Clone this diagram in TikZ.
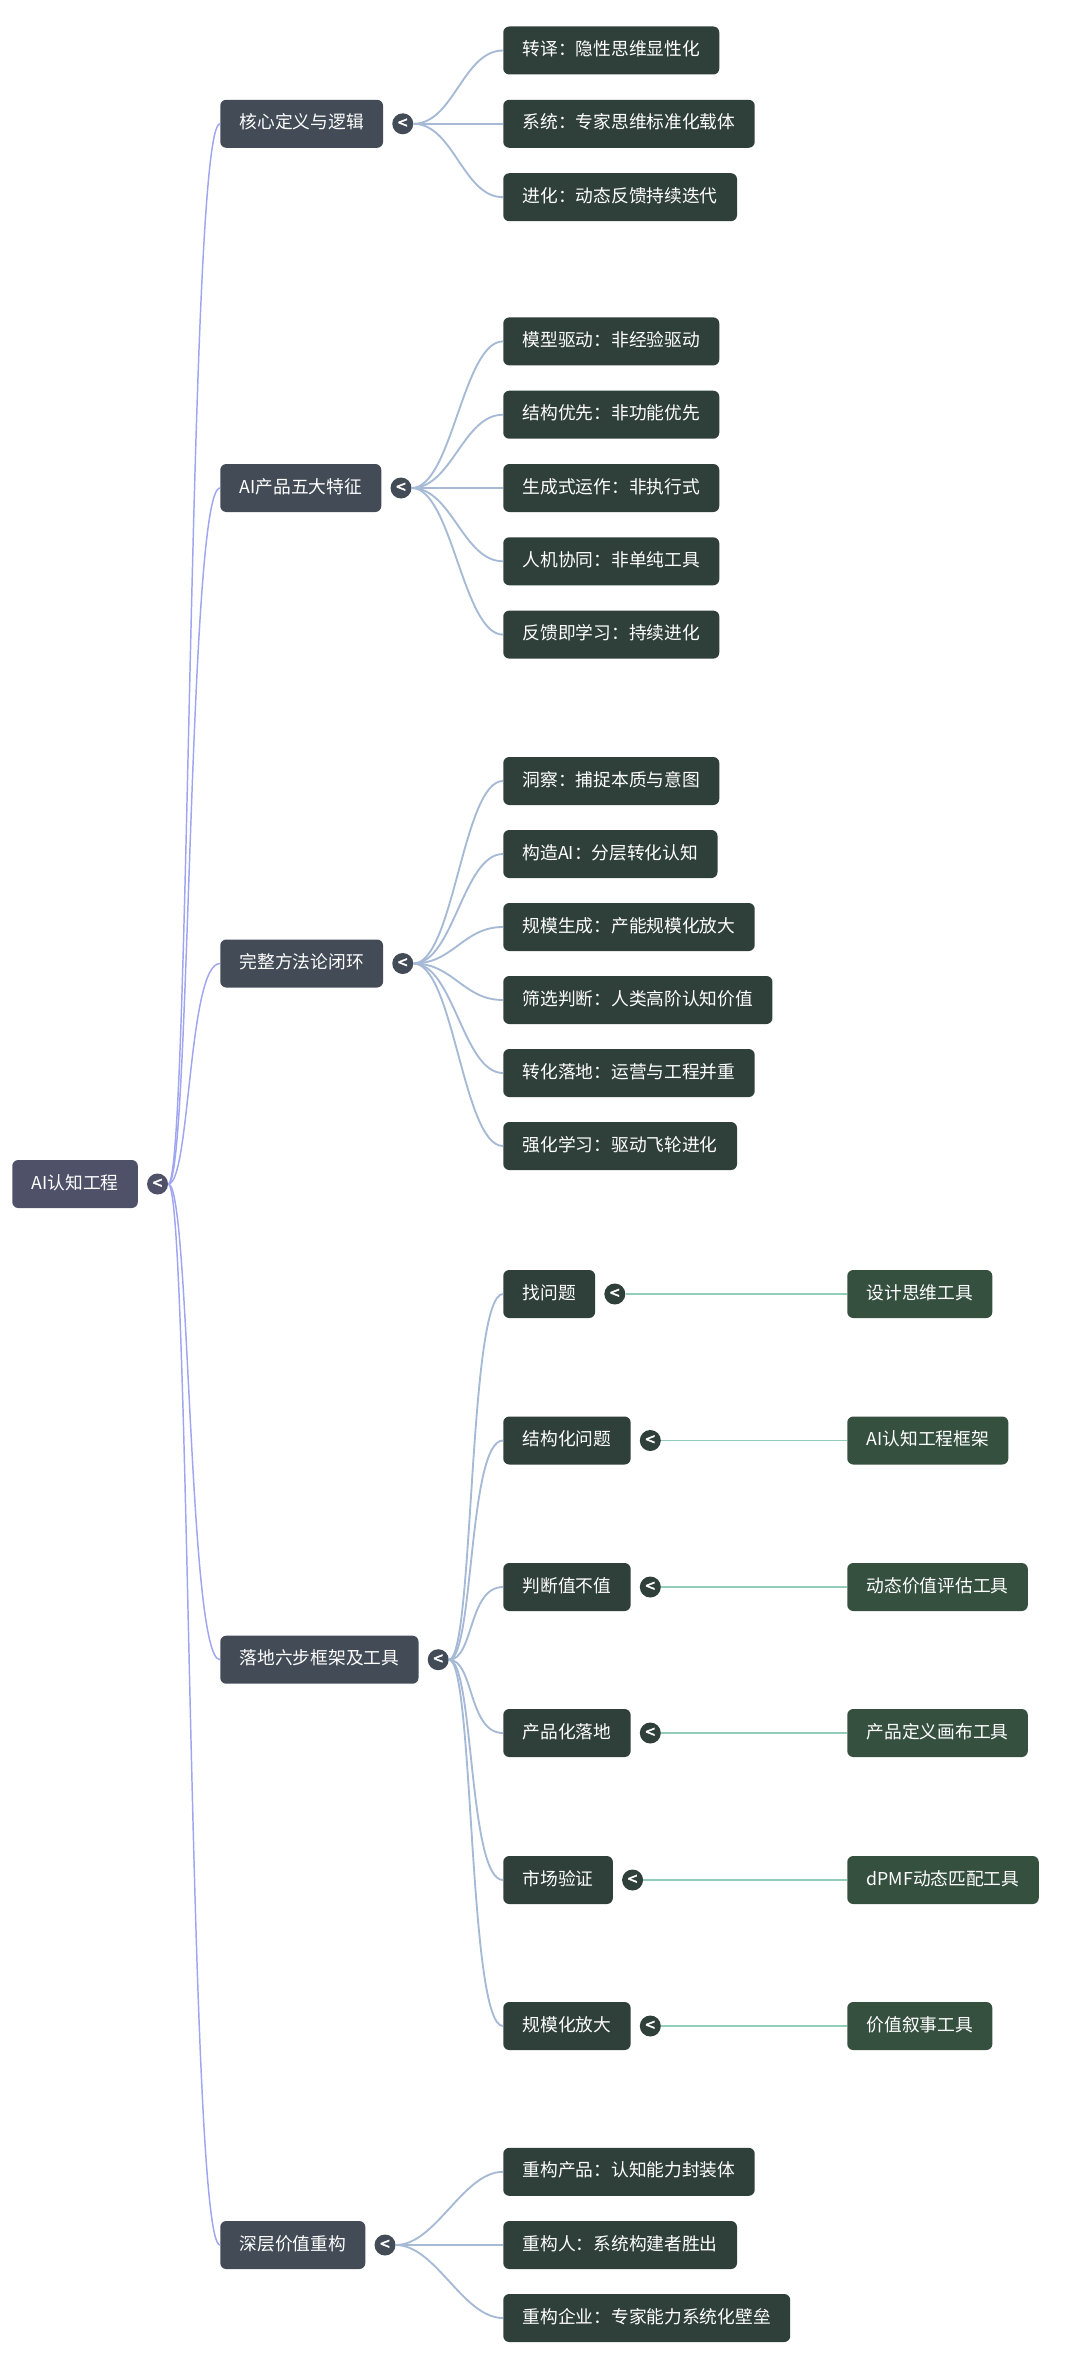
\documentclass[tikz,border=0pt]{standalone}
\usepackage{fontspec}
\newfontfamily\cjk{Noto Sans CJK SC}
\newfontfamily\cjkb[FakeBold=2.5]{Noto Sans CJK SC}
\usetikzlibrary{positioning}
\definecolor{rootC}{HTML}{4F5169}
\definecolor{topC}{HTML}{424B56}
\definecolor{subC}{HTML}{2F3F3A}
\definecolor{toolC}{HTML}{35503F}
\definecolor{rootL}{HTML}{A0A5F0}
\definecolor{subL}{HTML}{A6BAD6}
\definecolor{toolL}{HTML}{92CDB8}
\tikzset{
  box/.style={rounded corners=4.5pt, text=white, inner xsep=14.5pt, inner ysep=0pt,
    minimum height=36pt, text height=0.88em, text depth=0.12em,
    font=\cjk\fontsize{13.3pt}{16pt}\selectfont},
  rootbox/.style={box, fill=rootC},
  topic/.style={box, fill=topC},
  sub/.style={box, fill=subC},
  tool/.style={box, fill=toolC},
  tog/.style={circle, inner sep=0pt, minimum size=15.75pt, text=white,
    font=\cjkb\fontsize{13pt}{13pt}\selectfont},
  rootln/.style={rootL, line width=1.1pt},
  subln/.style={subL, line width=1.4pt},
  toolln/.style={toolL, line width=1.4pt},
}
\begin{document}
\begin{tikzpicture}[x=0.75pt,y=-0.75pt]
\useasboundingbox (0,0) rectangle (1080,2369);

% ============ root ==========================================================
\node[rootbox, anchor=west] (root) at (12,1184) {AI认知工程};
\node[tog, fill=rootC, right=6.5pt of root] (root-t) {<};

% ============ first level ===================================================
\foreach \n/\y/\t in {def/123.8/核心定义与逻辑, feat/488/AI产品五大特征,
    cyc/963.5/完整方法论闭环, six/1659.7/落地六步框架及工具, val/2245/深层价值重构}{
  \node[topic, anchor=west] (\n) at (220,\y) {\t};
  \node[tog, fill=topC, right=6.5pt of \n] (\n-t) {<};
  \draw[rootln] (root-t.east) .. controls +(22,0) and +(-32,0) .. (\n.west);
}

% ============ core definition ===============================================
\foreach \i/\y/\t in {1/50.5/转译：隐性思维显性化, 2/123.8/系统：专家思维标准化载体,
    3/197.2/进化：动态反馈持续迭代}{
  \node[sub, anchor=west] (def-\i) at (503,\y) {\t};
  \draw[subln] (def-t.east) .. controls +(40,0) and +(-40,0) .. (def-\i.west);
}

% ============ five features =================================================
\foreach \i/\y/\t in {1/341.4/模型驱动：非经验驱动, 2/414.7/结构优先：非功能优先,
    3/488/生成式运作：非执行式, 4/561.3/人机协同：非单纯工具, 5/634.6/反馈即学习：持续进化}{
  \node[sub, anchor=west] (feat-\i) at (503,\y) {\t};
  \draw[subln] (feat-t.east) .. controls +(40,0) and +(-40,0) .. (feat-\i.west);
}

% ============ closed loop ===================================================
\foreach \i/\y/\t in {1/781/洞察：捕捉本质与意图, 2/854/构造AI：分层转化认知,
    3/927/规模生成：产能规模化放大, 4/1000/筛选判断：人类高阶认知价值,
    5/1073/转化落地：运营与工程并重, 6/1146/强化学习：驱动飞轮进化}{
  \node[sub, anchor=west] (cyc-\i) at (503,\y) {\t};
  \draw[subln] (cyc-t.east) .. controls +(40,0) and +(-40,0) .. (cyc-\i.west);
}

% ============ six steps and tools ===========================================
\foreach \i/\y/\t/\u in {1/1294/找问题/设计思维工具, 2/1440.5/结构化问题/AI认知工程框架,
    3/1587/判断值不值/动态价值评估工具, 4/1733/产品化落地/产品定义画布工具,
    5/1880/市场验证/dPMF动态匹配工具, 6/2026/规模化放大/价值叙事工具}{
  \node[sub, anchor=west] (six-\i) at (503,\y) {\t};
  \node[tog, fill=subC, right=6.5pt of six-\i] (six-\i-t) {<};
  \node[tool, anchor=west] (tool-\i) at (847,\y) {\u};
  \draw[subln] (six-t.east) .. controls +(25,0) and +(-35,0) .. (six-\i.west);
  \draw[toolln] (six-\i-t.east) -- (tool-\i.west);
}

% ============ value rebuild =================================================
\foreach \i/\y/\t in {1/2171.8/重构产品：认知能力封装体, 2/2245/重构人：系统构建者胜出,
    3/2318/重构企业：专家能力系统化壁垒}{
  \node[sub, anchor=west] (val-\i) at (503,\y) {\t};
  \draw[subln] (val-t.east) .. controls +(40,0) and +(-40,0) .. (val-\i.west);
}

\end{tikzpicture}
\end{document}
